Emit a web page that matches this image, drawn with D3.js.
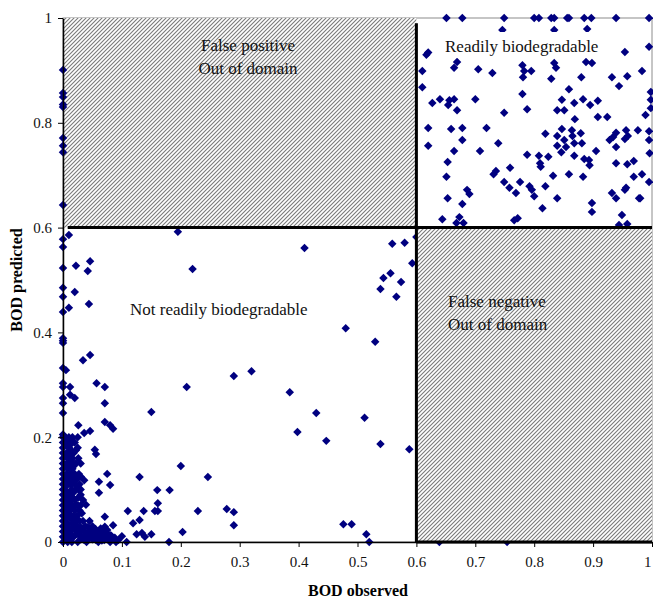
<!DOCTYPE html>
<html>
<head>
<meta charset="utf-8">
<script src="https://cdn.jsdelivr.net/npm/d3@7"></script>
<style>
  body { margin: 0; background: #fff; }
  svg text { font-family: "Liberation Serif", "Times New Roman", serif; }
</style>
</head>
<body>
<div id="chart"></div>
<script>
// tick values
const xTicks = [0, 0.1, 0.2, 0.3, 0.4, 0.5, 0.6, 0.7, 0.8, 0.9, 1];
const yTicks = [0, 0.2, 0.4, 0.6, 0.8, 1];

// [BOD observed, BOD predicted]
const readilyPoints = [
  [0.651,1],[0.678,1],[0.749,1],[0.8,1],[0.808,1],[0.829,1],[0.834,1],[0.856,1],[0.859,1],[0.885,1],[0.897,1],[0.939,1],[0.995,1],
  [0.746,0.977],[0.834,0.977],[0.890,0.979],
  [0.617,0.930],[0.620,0.934],[0.669,0.916],[0.664,0.905],[0.610,0.899],[0.705,0.902],[0.729,0.895],
  [0.780,0.910],[0.783,0.899],[0.795,0.899],[0.781,0.887],
  [0.834,0.914],[0.837,0.905],[0.829,0.884],[0.888,0.916],[0.898,0.914],[0.880,0.887],
  [0.932,0.887],[0.958,0.889],[0.983,0.899],[0.954,0.935],[0.995,0.945],[0.944,0.870],[0.998,0.859],
  [0.610,0.868],[0.627,0.838],[0.640,0.845],[0.654,0.834],[0.656,0.843],[0.664,0.845],[0.669,0.824],[0.700,0.845],
  [0.749,0.819],[0.788,0.826],[0.780,0.855],
  [0.859,0.864],[0.847,0.844],[0.839,0.824],[0.851,0.824],[0.868,0.838],[0.883,0.845],[0.895,0.834],[0.908,0.842],
  [0.908,0.811],[0.924,0.811],[0.869,0.807],[0.989,0.815],[0.998,0.844],[0.998,0.828],
  [0.620,0.790],[0.659,0.788],[0.678,0.790],[0.719,0.790],
  [0.620,0.756],[0.664,0.746],[0.678,0.767],[0.708,0.746],[0.739,0.761],
  [0.819,0.779],[0.839,0.775],[0.847,0.788],[0.851,0.767],[0.839,0.756],[0.846,0.744],[0.854,0.754],[0.864,0.786],
  [0.865,0.775],[0.868,0.761],[0.879,0.780],[0.881,0.761],[0.868,0.737],[0.885,0.731],[0.893,0.729],[0.894,0.719],[0.905,0.746],
  [0.788,0.739],[0.808,0.737],[0.810,0.723],[0.811,0.716],[0.824,0.735],
  [0.928,0.767],[0.934,0.773],[0.939,0.781],[0.939,0.754],[0.956,0.786],[0.959,0.775],[0.954,0.769],[0.976,0.786],
  [0.995,0.784],[0.995,0.767],[0.996,0.742],
  [0.939,0.723],[0.958,0.721],[0.969,0.727],[0.983,0.702],[0.969,0.697],[0.956,0.676],[0.978,0.656],[0.995,0.687],
  [0.653,0.725],[0.651,0.697],[0.731,0.702],[0.735,0.708],[0.759,0.714],[0.749,0.687],[0.758,0.676],[0.769,0.666],
  [0.776,0.687],[0.792,0.679],[0.796,0.672],[0.800,0.660],[0.819,0.679],[0.832,0.699],[0.859,0.702],[0.883,0.697],
  [0.898,0.647],[0.898,0.630],[0.839,0.656],[0.814,0.637],[0.932,0.666],[0.939,0.656],[0.954,0.672],[0.980,0.656],
  [0.949,0.624],[0.944,0.605],
  [0.653,0.656],[0.686,0.672],[0.690,0.664],[0.678,0.645],[0.644,0.616],[0.673,0.620],[0.680,0.609],[0.766,0.614],
  [0.772,0.618],[0.668,0.609],[0.958,0.607]
];

const notReadilyPoints = [
  [0.010,0.586],[0.022,0.527],[0.046,0.536],[0.042,0.517],[0.020,0.477],[0.010,0.447],[0.044,0.454],[0.034,0.347],
  [0.046,0.357],[0.005,0.328],
  [0.195,0.592],[0.220,0.521],[0.410,0.561],[0.559,0.569],[0.580,0.571],[0.593,0.532],[0.600,0.582],[0.556,0.513],
  [0.544,0.504],[0.574,0.496],[0.539,0.483],[0.566,0.468],[0.480,0.408],[0.530,0.382],[0.290,0.317],[0.320,0.326],
  [0.385,0.286],[0.512,0.237],[0.539,0.187],[0.588,0.177],[0.398,0.210],[0.430,0.246],[0.447,0.193],
  [0.210,0.296],[0.150,0.248],[0.200,0.145],[0.246,0.124],[0.229,0.059],[0.203,0.019],[0.180,0],[0.181,0.099],
  [0.160,0.099],[0.161,0.074],[0.156,0.059],[0.161,0.059],[0.137,0.059],[0.130,0.124],[0.110,0.059],[0.150,0.015],
  [0.139,0.010],[0.119,0.036],[0.130,0.042],[0.125,0.015],[0.108,0],[0.100,0.011],[0.134,0.017],[0.081,0.010],
  [0.071,0.296],[0.057,0.303],[0.071,0.265],[0.071,0.229],[0.080,0.223],[0.085,0.216],[0.046,0.212],[0.036,0.208],
  [0.026,0.223],[0.020,0.275],[0.012,0.281],[0.012,0.296],
  [0.054,0.176],[0.056,0.168],[0.075,0.130],[0.080,0.109],[0.061,0.115],[0.061,0.094],[0.036,0.118],[0.026,0.103],
  [0.039,0.071],[0.071,0.048],[0.071,0.029],[0.085,0.032],[0.080,0.013],[0.075,0.023],[0.049,0.023],
  [0.290,0.032],[0.290,0.057],[0.278,0.063],[0.476,0.034],[0.490,0.034],[0.515,0.015],[0.520,0]
];

// observed value ~0 column and dense cluster near the origin
const zeroColumn = [
  [0,0.901],[0,0.857],[0,0.849],[0,0.835],[0,0.830],[0,0.771],[0,0.756],[0,0.744],[0,0.643],
  [0,0.578],[0,0.563],[0,0.523],[0,0.485],[0,0.468],[0,0.439],[0,0.389],[0,0.384],[0,0.380],[0,0.332],
  [0,0.303],[0,0.296],[0,0.275],[0,0.265],[0,0.246],
  [0,0],[0,0.01],[0,0.02],[0,0.03],[0,0.04],[0,0.05],[0,0.06],[0,0.07],[0,0.08],[0,0.09],[0,0.1],
  [0,0.11],[0,0.12],[0,0.13],[0,0.14],[0,0.15],[0,0.16],[0,0.17],[0,0.18],[0,0.19],[0,0.2],[0,0.205],
  [0.004,0.005],[0.004,0.025],[0.004,0.045],[0.004,0.065],[0.004,0.085],[0.004,0.105],[0.004,0.125],
  [0.004,0.145],[0.004,0.165],[0.004,0.185],[0.004,0.2],
  [0.008,0],[0.008,0.015],[0.008,0.035],[0.008,0.055],[0.008,0.075],[0.008,0.095],[0.008,0.115],
  [0.008,0.14],[0.008,0.16],[0.008,0.19],
  [0.012,0.02],[0.014,0.05],[0.013,0.08],[0.015,0.1],[0.016,0.12],[0.012,0.13],[0.018,0.03],[0.02,0.06],
  [0.022,0.015],[0.02,0.19],[0.016,0.2],[0.025,0.2],[0.012,0.17],
  [0.012,0.005],[0.012,0.045],[0.012,0.06],[0.012,0.095],[0.012,0.11],[0.012,0.15],[0.012,0.185],
  [0.016,0.035],[0.016,0.07],[0.016,0.085],[0.016,0.14],[0.016,0.16],[0.018,0.01],
  [0.02,0.025],[0.02,0.045],[0.02,0.08],[0.02,0.13],[0.022,0.1],[0.022,0.15],[0.024,0.12],
  [0.006,0.01],[0.006,0.03],[0.006,0.05],[0.006,0.07],[0.006,0.09],[0.006,0.11],[0.006,0.13],[0.006,0.15],
  [0.006,0.17],[0.006,0.195],[0.01,0.025],[0.01,0.065],[0.01,0.085],[0.01,0.12],[0.01,0.145],[0.01,0.165],
  [0.01,0.18],[0.01,0.2],[0.014,0.015],[0.014,0.065],[0.014,0.09],[0.014,0.11],[0.014,0.13],[0.014,0.155],
  [0.014,0.175],[0.014,0.19],[0.018,0.05],[0.018,0.095],[0.018,0.115],[0.018,0.17],[0.018,0.145],
  [0.022,0.04],[0.022,0.07],[0.022,0.125],[0.022,0.175],[0.026,0.02],[0.026,0.1],[0.026,0.16],
  [0.025,0],[0.03,0.005],[0.035,0.01],[0.04,0],[0.045,0.02],[0.05,0.005],[0.055,0.012],[0.06,0],
  [0.065,0.01],[0.07,0.004],[0.075,0.015],[0.08,0],[0.085,0.005],[0.09,0],[0.028,0.04],[0.032,0.055],
  [0.038,0.03],[0.045,0.04],[0.05,0.03],[0.055,0.025],[0.06,0.02],[0.065,0.02],[0.025,0.07],[0.03,0.09],
  [0.02,0.11],[0.027,0.13],[0.03,0.15],[0.025,0.18],
  [0.015,0],[0.028,0.012],[0.032,0.022],[0.04,0.015],[0.044,0.006],[0.05,0.018],[0.056,0.004],
  [0.06,0.012],[0.066,0.003],[0.072,0.012],[0.078,0.006],[0.048,0.01],[0.036,0.004],[0.024,0.03],
  [0.028,0.06],[0.026,0.085],[0.03,0.1],[0.024,0.05],[0.034,0.04],
  [0.03,0.028],[0.036,0.02],[0.042,0.028],[0.046,0.012],[0.052,0.024],[0.058,0.018],[0.064,0.026],
  [0.07,0.018],[0.082,0.012],[0.088,0.008],[0.094,0.004],[0.03,0.07],[0.034,0.08],[0.028,0.11],[0.03,0.125]
];

const falseNegPoints = [[0.639,0],[0.754,0]];

const W = 653, H = 601;
const x = d3.scaleLinear().domain([0, 1]).range([63, 652]);
const y = d3.scaleLinear().domain([0, 1]).range([542, 18]);

const svg = d3.select("#chart").append("svg")
  .attr("width", W).attr("height", H)
  .attr("font-family", '"Liberation Serif", "Times New Roman", serif');

svg.append("rect").attr("width", W).attr("height", H).attr("fill", "#fff");

const defs = svg.append("defs");
const pat = defs.append("pattern")
  .attr("id", "hatch")
  .attr("patternUnits", "userSpaceOnUse")
  .attr("width", 4).attr("height", 4);
pat.append("rect").attr("width", 4).attr("height", 4).attr("fill", "#fff");
pat.append("path")
  .attr("d", "M-1,1 L1,-1 M0,4 L4,0 M3,5 L5,3")
  .attr("stroke", "#7a7a7a").attr("stroke-width", 1.1);

// plot border (grey)
svg.append("rect")
  .attr("x", x(0)).attr("y", y(1))
  .attr("width", x(1) - x(0)).attr("height", y(0) - y(1))
  .attr("fill", "none").attr("stroke", "#8c8c8c").attr("stroke-width", 1);

// false positive region
svg.append("rect")
  .attr("x", x(0)).attr("y", y(1))
  .attr("width", x(0.6) - x(0)).attr("height", y(0.6) - y(1))
  .attr("fill", "url(#hatch)");

const diamond = d3.symbol(d3.symbolSquare, 36);
function drawPoints(data) {
  svg.append("g").selectAll("path")
    .data(data).enter().append("path")
    .attr("d", diamond)
    .attr("transform", d => `translate(${x(d[0])},${y(d[1])}) rotate(45)`)
    .attr("fill", "#000080");
}
drawPoints(zeroColumn);
drawPoints(notReadilyPoints);
drawPoints(readilyPoints);
drawPoints(falseNegPoints);

// false negative region drawn above the points
svg.append("rect")
  .attr("x", x(0.6)).attr("y", y(0.6))
  .attr("width", x(1) - x(0.6)).attr("height", y(0) - y(0.6))
  .attr("fill", "url(#hatch)");

// axes
const yAxis = svg.append("g")
  .attr("transform", `translate(${x(0)},0)`)
  .call(d3.axisLeft(y).tickValues(yTicks).tickSize(5).tickSizeOuter(0).tickPadding(6)
    .tickFormat(d3.format("~g")));
const xAxis = svg.append("g")
  .attr("transform", `translate(0,${y(0)})`)
  .call(d3.axisBottom(x).tickValues(xTicks).tickSize(5).tickSizeOuter(0).tickPadding(9)
    .tickFormat(d3.format("~g")));
[yAxis, xAxis].forEach(a => {
  a.selectAll("text").attr("font-size", 15).attr("fill", "#111")
    .attr("font-family", '"Liberation Serif", serif');
  a.selectAll("line").attr("stroke", "#000");
  a.select(".domain").attr("stroke", "#000").attr("stroke-width", 1.5);
});
// keep the last x label inside the page
xAxis.selectAll(".tick text").filter(d => d === 1).attr("text-anchor", "end").attr("dx", -1);

// quadrant dividers
svg.append("line")
  .attr("x1", x(0.6)).attr("x2", x(0.6)).attr("y1", y(0.99)).attr("y2", y(0))
  .attr("stroke", "#000").attr("stroke-width", 3);
svg.append("line")
  .attr("x1", x(0.008)).attr("x2", x(1)).attr("y1", y(0.6)).attr("y2", y(0.6))
  .attr("stroke", "#000").attr("stroke-width", 3);
svg.append("line")
  .attr("x1", x(0.6)).attr("x2", x(1)).attr("y1", y(0)).attr("y2", y(0))
  .attr("stroke", "#000").attr("stroke-width", 3);

// labels
const lab = svg.append("g").attr("font-size", 17).attr("fill", "#111");
lab.append("text").attr("x", 248).attr("y", 51).attr("text-anchor", "middle").text("False positive");
lab.append("text").attr("x", 248).attr("y", 74).attr("text-anchor", "middle").text("Out of domain");

svg.append("rect").attr("x", 441).attr("y", 32).attr("width", 179).attr("height", 26).attr("fill", "#fff");
svg.append("text").attr("x", 445).attr("y", 52).attr("font-size", 17).attr("fill", "#111")
  .text("Readily biodegradable");

svg.append("text").attr("x", 130).attr("y", 315).attr("font-size", 17).attr("fill", "#111")
  .text("Not readily biodegradable");

lab.append("text").attr("x", 448).attr("y", 307).text("False negative");
lab.append("text").attr("x", 448).attr("y", 330).text("Out of domain");

// axis titles
svg.append("text")
  .attr("x", 358).attr("y", 596).attr("text-anchor", "middle")
  .attr("font-size", 16).attr("font-weight", "bold").text("BOD observed");
svg.append("text")
  .attr("transform", "translate(22,280) rotate(-90)")
  .attr("text-anchor", "middle")
  .attr("font-size", 16).attr("font-weight", "bold").text("BOD predicted");
</script>
</body>
</html>
